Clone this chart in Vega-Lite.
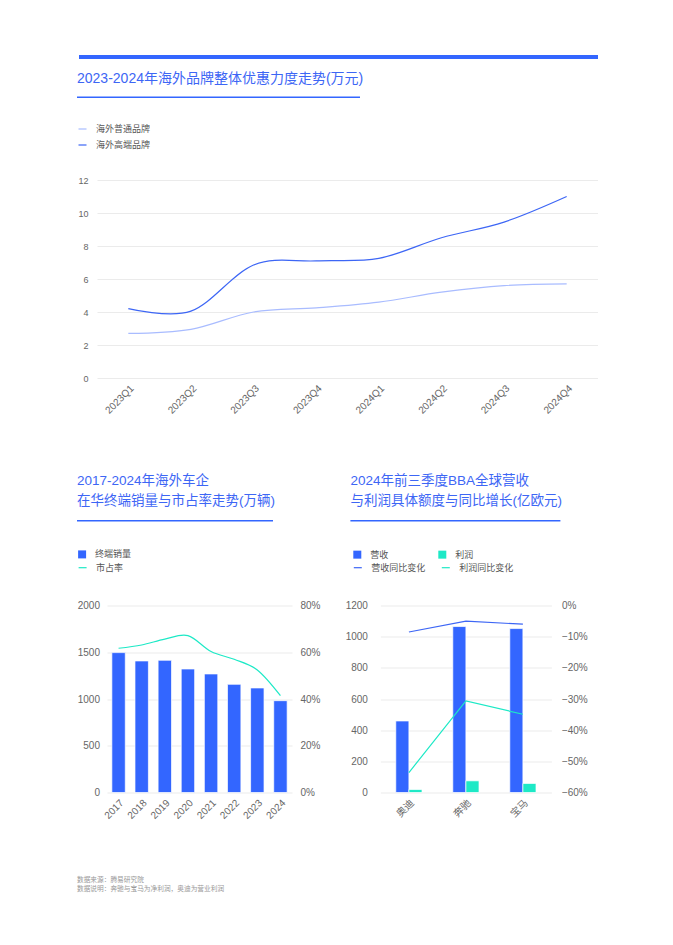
{
  "$schema": "https://vega.github.io/schema/vega-lite/v6.json",
  "background": "white",
  "padding": {"left": 77, "top": 55, "right": 0, "bottom": 0},
  "config": {
    "font": "Liberation Sans, Noto Sans CJK SC, sans-serif",
    "view": {"stroke": null},
    "axis": {"domain": false, "ticks": false, "labelColor": "#666666", "gridColor": "#ebebeb", "minExtent": 0, "title": null},
    "legend": {"padding": 0, "labelColor": "#555555", "labelFontSize": 9, "title": null},
    "title": {"color": "#3d66f5", "fontWeight": "normal", "anchor": "start"}
  },
  "title": {
    "text": ["数据来源：腾易研究院", "数据说明：奔驰与宝马为净利润，奥迪为营业利润"],
    "orient": "bottom", "anchor": "start", "fontSize": 6.7, "lineHeight": 9, "color": "#999999", "offset": 56.5, "frame": "bounds"
  },
  "datasets": {
    "one": [{}],
    "q": [
      {"quarter": "2023Q1", "type": "海外普通品牌", "value": 2.7},
      {"quarter": "2023Q2", "type": "海外普通品牌", "value": 2.95},
      {"quarter": "2023Q3", "type": "海外普通品牌", "value": 4.0},
      {"quarter": "2023Q4", "type": "海外普通品牌", "value": 4.25},
      {"quarter": "2024Q1", "type": "海外普通品牌", "value": 4.6},
      {"quarter": "2024Q2", "type": "海外普通品牌", "value": 5.2},
      {"quarter": "2024Q3", "type": "海外普通品牌", "value": 5.6},
      {"quarter": "2024Q4", "type": "海外普通品牌", "value": 5.7},
      {"quarter": "2023Q1", "type": "海外高端品牌", "value": 4.2},
      {"quarter": "2023Q2", "type": "海外高端品牌", "value": 4.05},
      {"quarter": "2023Q3", "type": "海外高端品牌", "value": 6.85},
      {"quarter": "2023Q4", "type": "海外高端品牌", "value": 7.1},
      {"quarter": "2024Q1", "type": "海外高端品牌", "value": 7.25},
      {"quarter": "2024Q2", "type": "海外高端品牌", "value": 8.5},
      {"quarter": "2024Q3", "type": "海外高端品牌", "value": 9.45},
      {"quarter": "2024Q4", "type": "海外高端品牌", "value": 11.0}
    ],
    "sales": [
      {"year": "2017", "sales": 1496, "share": 0.617},
      {"year": "2018", "sales": 1407, "share": 0.631},
      {"year": "2019", "sales": 1414, "share": 0.656},
      {"year": "2020", "sales": 1321, "share": 0.671},
      {"year": "2021", "sales": 1268, "share": 0.603},
      {"year": "2022", "sales": 1157, "share": 0.570},
      {"year": "2023", "sales": 1118, "share": 0.524},
      {"year": "2024", "sales": 982, "share": 0.414}
    ],
    "bba": [
      {"brand": "奥迪", "metric": "营收", "amount": 459},
      {"brand": "奥迪", "metric": "利润", "amount": 19},
      {"brand": "奔驰", "metric": "营收", "amount": 1065},
      {"brand": "奔驰", "metric": "利润", "amount": 75},
      {"brand": "宝马", "metric": "营收", "amount": 1052},
      {"brand": "宝马", "metric": "利润", "amount": 58}
    ],
    "bbachg": [
      {"brand": "奥迪", "metric": "营收同比变化", "chg": -0.085},
      {"brand": "奔驰", "metric": "营收同比变化", "chg": -0.05},
      {"brand": "宝马", "metric": "营收同比变化", "chg": -0.06},
      {"brand": "奥迪", "metric": "利润同比变化", "chg": -0.536},
      {"brand": "奔驰", "metric": "利润同比变化", "chg": -0.306},
      {"brand": "宝马", "metric": "利润同比变化", "chg": -0.349}
    ]
  },
  "spacing": 12.5,
  "resolve": {"scale": {"color": "independent", "stroke": "independent"}, "legend": {"color": "independent", "stroke": "independent"}},
  "vconcat": [
    {
      "width": 521, "height": 4,
      "data": {"name": "one"},
      "mark": {"type": "rect", "color": "#3366ff"},
      "encoding": {
        "x": {"datum": 2, "type": "quantitative", "scale": {"domain": [0, 521]}, "axis": null},
        "x2": {"datum": 521},
        "y": {"datum": 0, "type": "quantitative", "scale": {"domain": [0, 1]}, "axis": null},
        "y2": {"datum": 1}
      }
    },
    {
      "spacing": 58.5,
      "resolve": {"scale": {"color": "independent", "stroke": "independent"}, "legend": {"color": "independent", "stroke": "independent"}},
      "vconcat": [
        {
          "spacing": 25.5,
          "resolve": {"scale": {"color": "independent", "stroke": "independent"}, "legend": {"color": "independent", "stroke": "independent"}},
          "vconcat": [
            {
              "width": 283, "height": 1.5,
              "title": {"text": "2023-2024年海外品牌整体优惠力度走势(万元)", "fontSize": 14, "offset": 11, "frame": "group"},
              "data": {"name": "one"},
              "mark": {"type": "rect", "color": "#3366ff"},
              "encoding": {
                "x": {"datum": 0, "type": "quantitative", "scale": {"domain": [0, 1]}, "axis": null},
                "x2": {"datum": 1},
                "y": {"datum": 0, "type": "quantitative", "scale": {"domain": [0, 1]}, "axis": null},
                "y2": {"datum": 1}
              }
            },
            {
              "spacing": -1,
              "resolve": {"scale": {"color": "independent", "stroke": "independent"}, "legend": {"color": "independent", "stroke": "independent"}},
              "hconcat": [
                {
                  "width": 1, "height": 1,
                  "data": {"name": "one"},
                  "mark": {"type": "rect", "opacity": 0},
                  "encoding": {
                    "x": {"datum": 0, "type": "quantitative", "scale": {"domain": [0, 1]}, "axis": null},
                    "x2": {"datum": 1},
                    "y": {"datum": 0, "type": "quantitative", "scale": {"domain": [0, 1]}, "axis": null},
                    "y2": {"datum": 1}
                  }
                },
                {
                  "width": 501, "height": 198,
                  "data": {"name": "q"},
                  "mark": {"type": "line", "interpolate": "cardinal", "strokeWidth": 1.2},
                  "encoding": {
                    "x": {"field": "quarter", "type": "ordinal", "sort": null, "scale": {"type": "point", "padding": 0.5}, "axis": {"labelAngle": -45, "labelFontSize": 10, "grid": false, "labelPadding": 5}},
                    "y": {"field": "value", "type": "quantitative", "scale": {"domain": [0, 12]}, "axis": {"values": [0, 2, 4, 6, 8, 10, 12], "labelFontSize": 9, "labelPadding": 9, "grid": true}},
                    "color": {"field": "type", "type": "nominal", "sort": ["海外普通品牌", "海外高端品牌"], "scale": {"range": ["#a9bcff", "#3d66f5"]},
                      "legend": {"orient": "none", "legendX": -19.5, "legendY": -56, "symbolType": "stroke", "symbolSize": 64, "symbolStrokeWidth": 1.2, "labelOffset": 8.5, "rowPadding": 6}}
                  }
                }
              ]
            }
          ]
        },
        {
          "spacing": 23.4,
          "resolve": {"scale": {"color": "independent", "stroke": "independent"}, "legend": {"color": "independent", "stroke": "independent"}},
          "hconcat": [
            {
              "spacing": 27.5,
              "resolve": {"scale": {"color": "independent", "stroke": "independent"}, "legend": {"color": "independent", "stroke": "independent"}},
              "vconcat": [
                {
                  "width": 196, "height": 1.5,
                  "title": {"text": ["2017-2024年海外车企", "在华终端销量与市占率走势(万辆)"], "fontSize": 13.5, "lineHeight": 20, "offset": 12.5, "frame": "group"},
                  "data": {"name": "one"},
                  "mark": {"type": "rect", "color": "#3366ff"},
                  "encoding": {
                    "x": {"datum": 0, "type": "quantitative", "scale": {"domain": [0, 1]}, "axis": null},
                    "x2": {"datum": 1},
                    "y": {"datum": 0, "type": "quantitative", "scale": {"domain": [0, 1]}, "axis": null},
                    "y2": {"datum": 1}
                  }
                },
                {
                  "spacing": -1,
                  "resolve": {"scale": {"color": "independent", "stroke": "independent"}, "legend": {"color": "independent", "stroke": "independent"}},
                  "hconcat": [
                    {
                      "width": 1, "height": 1,
                      "data": {"name": "one"},
                      "mark": {"type": "rect", "opacity": 0},
                      "encoding": {
                        "x": {"datum": 0, "type": "quantitative", "scale": {"domain": [0, 1]}, "axis": null},
                        "x2": {"datum": 1},
                        "y": {"datum": 0, "type": "quantitative", "scale": {"domain": [0, 1]}, "axis": null},
                        "y2": {"datum": 1}
                      }
                    },
                    {
                      "width": 185, "height": 187,
                      "data": {"name": "sales"},
                      "layer": [
                        {
                          "mark": {"type": "bar", "stroke": "white", "strokeOpacity": 0.7, "strokeWidth": 1},
                          "encoding": {
                            "x": {"field": "year", "type": "ordinal", "scale": {"paddingInner": 0.42, "paddingOuter": 0.21}, "axis": {"labelAngle": -45, "labelFontSize": 10, "labelPadding": 5}},
                            "y": {"field": "sales", "type": "quantitative", "scale": {"domain": [0, 2000]}, "axis": {"values": [0, 500, 1000, 1500, 2000], "format": "d", "labelFontSize": 10, "labelPadding": 7.5, "grid": true}},
                            "color": {"datum": "终端销量", "scale": {"range": ["#3366ff"]},
                              "legend": {"orient": "none", "legendX": -29.4, "legendY": -55.6, "symbolType": "square", "symbolSize": 64, "symbolStrokeWidth": 0, "labelOffset": 8.5}}
                          }
                        },
                        {
                          "mark": {"type": "line", "interpolate": "cardinal", "strokeWidth": 1.2},
                          "encoding": {
                            "x": {"field": "year", "type": "ordinal"},
                            "y": {"field": "share", "type": "quantitative", "scale": {"domain": [0, 0.8]}, "axis": {"orient": "right", "format": ".0%", "values": [0, 0.2, 0.4, 0.6, 0.8], "labelFontSize": 10, "labelPadding": 8, "grid": false}},
                            "stroke": {"datum": "市占率", "scale": {"range": ["#1de9c6"]},
                              "legend": {"orient": "none", "legendX": -29.4, "legendY": -42.8, "symbolType": "stroke", "symbolSize": 64, "symbolStrokeWidth": 1.2, "labelOffset": 8.5}}
                          }
                        }
                      ],
                      "resolve": {"scale": {"y": "independent"}}
                    }
                  ]
                }
              ]
            },
            {
              "spacing": 27.5,
              "resolve": {"scale": {"color": "independent", "stroke": "independent"}, "legend": {"color": "independent", "stroke": "independent"}},
              "vconcat": [
                {
                  "spacing": 0,
                  "resolve": {"scale": {"color": "independent", "stroke": "independent"}, "legend": {"color": "independent", "stroke": "independent"}},
                  "hconcat": [
                    {
                      "width": 6, "height": 1,
                      "data": {"name": "one"},
                      "mark": {"type": "rect", "opacity": 0},
                      "encoding": {
                        "x": {"datum": 0, "type": "quantitative", "scale": {"domain": [0, 1]}, "axis": null},
                        "x2": {"datum": 1},
                        "y": {"datum": 0, "type": "quantitative", "scale": {"domain": [0, 1]}, "axis": null},
                        "y2": {"datum": 1}
                      }
                    },
                    {
                      "width": 210, "height": 1.5,
                      "title": {"text": ["2024年前三季度BBA全球营收", "与利润具体额度与同比增长(亿欧元)"], "fontSize": 13.5, "lineHeight": 20, "offset": 12.5, "frame": "group"},
                      "data": {"name": "one"},
                      "mark": {"type": "rect", "color": "#3366ff"},
                      "encoding": {
                        "x": {"datum": 0, "type": "quantitative", "scale": {"domain": [0, 1]}, "axis": null},
                        "x2": {"datum": 1},
                        "y": {"datum": 0, "type": "quantitative", "scale": {"domain": [0, 1]}, "axis": null},
                        "y2": {"datum": 1}
                      }
                    }
                  ]
                },
                {
                  "spacing": -1,
                  "resolve": {"scale": {"color": "independent", "stroke": "independent"}, "legend": {"color": "independent", "stroke": "independent"}},
                  "hconcat": [
                    {
                      "width": 1, "height": 1,
                      "data": {"name": "one"},
                      "mark": {"type": "rect", "opacity": 0},
                      "encoding": {
                        "x": {"datum": 0, "type": "quantitative", "scale": {"domain": [0, 1]}, "axis": null},
                        "x2": {"datum": 1},
                        "y": {"datum": 0, "type": "quantitative", "scale": {"domain": [0, 1]}, "axis": null},
                        "y2": {"datum": 1}
                      }
                    },
                    {
                      "width": 171, "height": 187,
                      "layer": [
                        {
                          "data": {"name": "bba"},
                          "mark": {"type": "bar", "stroke": "white", "strokeOpacity": 0.7, "strokeWidth": 1},
                          "encoding": {
                            "x": {"field": "brand", "type": "nominal", "sort": ["奥迪", "奔驰", "宝马"], "scale": {"paddingInner": 0.54, "paddingOuter": 0.27}, "axis": {"labelAngle": -45, "labelFontSize": 10, "labelPadding": 5}},
                            "xOffset": {"field": "metric", "type": "nominal", "sort": ["营收", "利润"], "scale": {"paddingInner": 0, "paddingOuter": 0}},
                            "y": {"field": "amount", "type": "quantitative", "scale": {"domain": [0, 1200]}, "axis": {"values": [0, 200, 400, 600, 800, 1000, 1200], "format": "d", "labelFontSize": 10, "labelPadding": 13, "grid": true}},
                            "color": {"field": "metric", "type": "nominal", "sort": ["营收", "利润"], "scale": {"range": ["#3366ff", "#1de9c6"]},
                              "legend": {"orient": "none", "legendX": -27.6, "legendY": -55.6, "columns": 2, "columnPadding": 49, "symbolType": "square", "symbolSize": 64, "symbolStrokeWidth": 0, "labelOffset": 8.5}}
                          }
                        },
                        {
                          "data": {"name": "bbachg"},
                          "mark": {"type": "line", "strokeWidth": 1.2},
                          "encoding": {
                            "x": {"field": "brand", "type": "nominal", "sort": ["奥迪", "奔驰", "宝马"]},
                            "y": {"field": "chg", "type": "quantitative", "scale": {"domain": [-0.6, 0]}, "axis": {"orient": "right", "format": ".0%", "values": [-0.6, -0.5, -0.4, -0.3, -0.2, -0.1, 0], "labelFontSize": 10, "labelPadding": 10, "grid": false}},
                            "stroke": {"field": "metric", "type": "nominal", "sort": ["营收同比变化", "利润同比变化"], "scale": {"range": ["#3d66f5", "#1de9c6"]},
                              "legend": {"orient": "none", "legendX": -27.6, "legendY": -42.8, "columns": 2, "columnPadding": 13, "symbolType": "stroke", "symbolSize": 64, "symbolStrokeWidth": 1.2, "labelOffset": 8.5}}
                          }
                        }
                      ],
                      "resolve": {"scale": {"y": "independent"}}
                    }
                  ]
                }
              ]
            }
          ]
        }
      ]
    }
  ]
}
